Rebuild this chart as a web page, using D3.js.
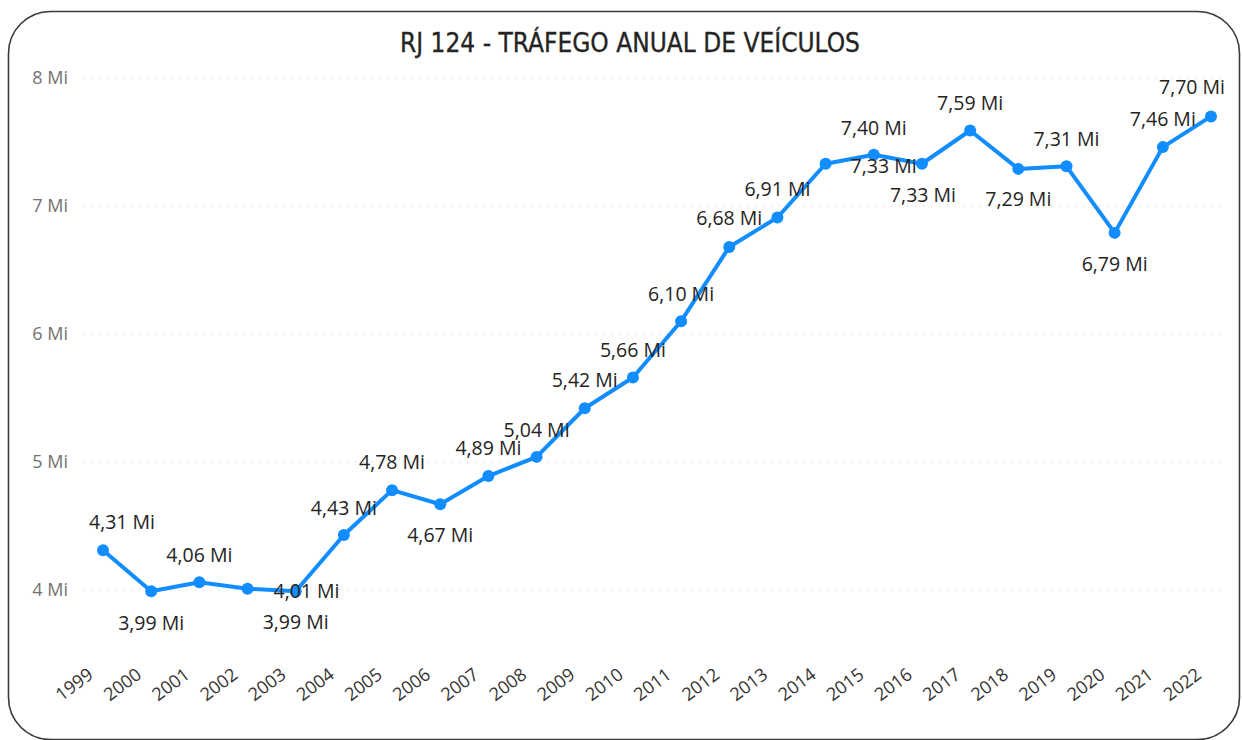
<!DOCTYPE html>
<html>
<head>
<meta charset="utf-8">
<script src="https://cdn.jsdelivr.net/npm/d3@7/dist/d3.min.js"></script>
<style>
  html, body { margin: 0; padding: 0; background: #fff; }
  svg { display: block; }
  text { font-family: "Open Sans", "Noto Sans", sans-serif; }
</style>
</head>
<body>
<svg id="chart" width="1242" height="740"></svg>
<script>
// Annual vehicle traffic on RJ 124 (millions of vehicles)
const years = ["1999","2000","2001","2002","2003","2004","2005","2006","2007","2008","2009","2010",
               "2011","2012","2013","2014","2015","2016","2017","2018","2019","2020","2021","2022"];
const traffic = [4.31, 3.99, 4.06, 4.01, 3.99, 4.43, 4.78, 4.67, 4.89, 5.04, 5.42, 5.66,
                 6.10, 6.68, 6.91, 7.33, 7.40, 7.33, 7.59, 7.29, 7.31, 6.79, 7.46, 7.70];
const yTicks = [4, 5, 6, 7, 8];
const title = "RJ 124 - TRÁFEGO ANUAL DE VEÍCULOS";

// Label placement relative to each point: [dx, dy] in pixels
const labelOffsets = [
  [19, -28], [0, 32], [0, -27], [59, 2], [0, 31], [0, -27], [0, -28], [0, 31],
  [0, -28], [0, -27], [0, -28], [0, -27], [0, -27], [0, -29], [0, -28], [58, 2],
  [0, -27], [1, 31], [0, -27], [0, 30], [0, -27], [0, 31], [0, -28], [-19, -29]
];

const fmt = v => d3.format(".2f")(v).replace(".", ",") + " Mi";

const svg = d3.select("#chart");

// Card frame
svg.append("rect")
  .attr("x", 8.5).attr("y", 11.5)
  .attr("width", 1231).attr("height", 728)
  .attr("rx", 42).attr("ry", 42)
  .attr("fill", "#fff")
  .attr("stroke", "#3a3a3a")
  .attr("stroke-width", 1.6);

// Title
svg.append("text")
  .attr("x", 630).attr("y", 52)
  .attr("text-anchor", "middle")
  .style("font-family", "'DejaVu Sans Condensed', 'Roboto', sans-serif")
  .style("font-size", "26px")
  .attr("fill", "#252423")
  .attr("stroke", "#252423")
  .attr("stroke-width", 0.3)
  .text(title);

const x = d3.scalePoint().domain(years).range([103, 1211]);
const y = d3.scaleLinear().domain([4, 8]).range([590, 78]);

// Horizontal dotted gridlines
svg.append("g")
  .selectAll("line")
  .data(yTicks)
  .join("line")
  .attr("x1", 83).attr("x2", 1226)
  .attr("y1", d => y(d)).attr("y2", d => y(d))
  .attr("stroke", "#c8c8c8")
  .attr("stroke-width", 1)
  .attr("stroke-dasharray", "1,7");

// Y axis
const yAxis = svg.append("g")
  .attr("transform", "translate(68,0)")
  .call(d3.axisLeft(y).tickValues(yTicks).tickFormat(d => d + " Mi").tickSize(0).tickPadding(0));
yAxis.select(".domain").remove();
yAxis.selectAll("text")
  .style("font-family", "'Open Sans', sans-serif")
  .style("font-size", "18px")
  .attr("fill", "#727272");

// X axis with rotated year labels
const xAxis = svg.append("g")
  .attr("transform", "translate(0,660)")
  .call(d3.axisBottom(x).tickSize(0).tickPadding(0));
xAxis.select(".domain").remove();
xAxis.selectAll("text")
  .style("font-family", "'Open Sans', sans-serif")
  .style("font-size", "18px")
  .attr("fill", "#333")
  .attr("text-anchor", "end")
  .attr("dy", "0")
  .attr("transform", "translate(-9,17) rotate(-37)");

// Line
const line = d3.line()
  .x((d, i) => x(years[i]))
  .y(d => y(d));

svg.append("path")
  .datum(traffic)
  .attr("d", line)
  .attr("fill", "none")
  .attr("stroke", "#118DFF")
  .attr("stroke-width", 4)
  .attr("stroke-linejoin", "round");

// Markers
svg.append("g")
  .selectAll("circle")
  .data(traffic)
  .join("circle")
  .attr("cx", (d, i) => x(years[i]))
  .attr("cy", d => y(d))
  .attr("r", 6)
  .attr("fill", "#118DFF");

// Data labels
svg.append("g")
  .selectAll("text")
  .data(traffic)
  .join("text")
  .attr("x", (d, i) => x(years[i]) + labelOffsets[i][0])
  .attr("y", (d, i) => y(d) + labelOffsets[i][1])
  .attr("dy", "0.35em")
  .attr("text-anchor", "middle")
  .style("font-family", "'Open Sans', sans-serif")
  .style("font-size", "19.5px")
  .attr("fill", "#252423")
  .text(d => fmt(d));
</script>
</body>
</html>
